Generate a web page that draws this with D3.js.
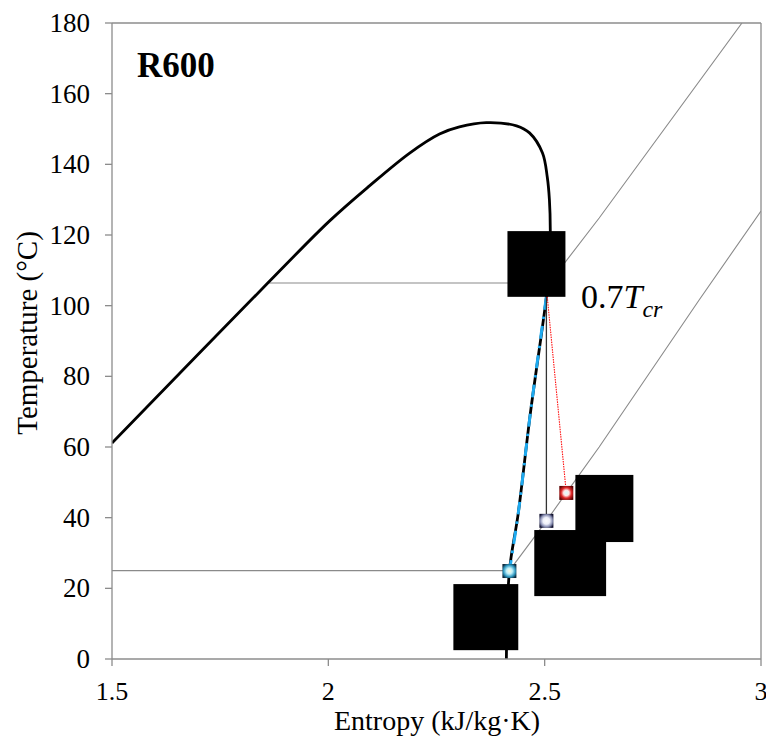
<!DOCTYPE html>
<html><head><meta charset="utf-8">
<script src="https://cdn.jsdelivr.net/npm/d3@7"></script>
<style>html,body{margin:0;padding:0;background:#fff}</style>
</head><body>
<svg id="c" width="766" height="736"></svg>
<script>
// ---- data (entropy kJ/kg·K, temperature °C) ----
const xTicks = [1.5, 2, 2.5, 3];
const yTicks = [0, 20, 40, 60, 80, 100, 120, 140, 160, 180];
const domeS = [1.5, 1.86, 2.003, 2.095, 2.188, 2.257, 2.303, 2.365, 2.435, 2.465, 2.495, 2.506, 2.511, 2.513, 2.511, 2.504, 2.467, 2.439, 2.4185, 2.4115];
const domeT = [61.1, 106.4, 124.0, 133.9, 143.2, 148.6, 150.6, 151.8, 150.9, 148.9, 143.2, 136.4, 129.9, 121.4, 111.5, 102.5, 69.6, 41.3, 24.9, 0];
const expS = [2.504, 2.467, 2.439, 2.4185];
const expT = [102.5, 69.6, 41.3, 24.9];
const isoHighS = [1.5, 1.86, 2.505, 2.548, 2.626, 2.956];
const isoHighT = [61.1, 106.4, 106.4, 112.4, 124.8, 180];
const isoLowS = [1.5, 2.4185, 2.504, 2.55, 2.626, 2.857, 3.0];
const isoLowT = [25, 25, 39.1, 47.0, 60.0, 101.6, 126.8];
const isenS = [2.504, 2.504];
const isenT = [102.5, 39.1];
const realS = [2.506, 2.55];
const realT = [102.5, 47.0];
const pointS = [2.4185, 2.504, 2.55];
const pointT = [24.9, 39.1, 47.0];
const boxS0 = [2.414, 2.571, 2.476, 2.289];
const boxS1 = [2.548, 2.705, 2.642, 2.439];
const boxT0 = [102.5, 33.1, 17.8, 2.5];
const boxT1 = [121.1, 52.1, 36.5, 21.2];

const svg = d3.select('#c');
const L = 112, R = 761, T = 23, B = 659;
const x = d3.scaleLinear().domain([1.5, 3]).range([L, R]);
const y = d3.scaleLinear().domain([0, 180]).range([B, T]);
const font = '"Liberation Serif","Times New Roman",serif';

const defs = svg.append('defs');
defs.append('clipPath').attr('id', 'clip').append('rect')
  .attr('x', L).attr('y', T).attr('width', R - L).attr('height', B - T);
const grads = [
  {id: 'g1', stops: [['0%', '#fffbe0'], ['35%', '#bff0fa'], ['70%', '#2f98c0'], ['100%', '#0c2638']]},
  {id: 'g2', stops: [['0%', '#ffffff'], ['40%', '#eef0fa'], ['72%', '#8a90b4'], ['100%', '#0e0e2c']]},
  {id: 'g3', stops: [['0%', '#d8ffff'], ['32%', '#ffe6e6'], ['62%', '#e02a2a'], ['100%', '#5a0000']]}
];
grads.forEach(g => {
  const rg = defs.append('radialGradient').attr('id', g.id).attr('cx', '50%').attr('cy', '50%').attr('r', '60%');
  g.stops.forEach(s => rg.append('stop').attr('offset', s[0]).attr('stop-color', s[1]));
});

const zip = (a, b) => a.map((v, i) => [v, b[i]]);
const line = d3.line().x(d => x(d[0])).y(d => y(d[1]));
const smooth = d3.line().x(d => x(d[0])).y(d => y(d[1])).curve(d3.curveCatmullRom.alpha(0.5));

const g = svg.append('g').attr('clip-path', 'url(#clip)');

// isobars
g.append('path').attr('d', line(zip(isoHighS, isoHighT))).attr('fill', 'none')
  .attr('stroke', '#8a8a8a').attr('stroke-width', 1.1);
g.append('path').attr('d', line(zip(isoLowS, isoLowT))).attr('fill', 'none')
  .attr('stroke', '#8a8a8a').attr('stroke-width', 1.1);
// dome
g.append('path').attr('d', smooth(zip(domeS, domeT))).attr('fill', 'none')
  .attr('stroke', '#000').attr('stroke-width', 2.8).attr('stroke-linejoin', 'round');
// expansion along saturation line (cyan dash-dot)
g.append('path').attr('d', smooth(zip(expS, expT))).attr('fill', 'none')
  .attr('stroke', '#1eaaf0').attr('stroke-width', 3).attr('stroke-dasharray', '13,7,2.5,7');
// isentropic expansion
g.append('path').attr('d', line(zip(isenS, isenT))).attr('fill', 'none')
  .attr('stroke', '#333').attr('stroke-width', 1.3);
// real expansion (red dotted)
g.append('path').attr('d', line(zip(realS, realT))).attr('fill', 'none')
  .attr('stroke', '#ff1010').attr('stroke-width', 1.1).attr('stroke-dasharray', '1.5,1');

// black boxes
g.selectAll('rect.box').data(boxS0).enter().append('rect').attr('class', 'box')
  .attr('x', (d, i) => x(boxS0[i])).attr('width', (d, i) => x(boxS1[i]) - x(boxS0[i]))
  .attr('y', (d, i) => y(boxT1[i])).attr('height', (d, i) => y(boxT0[i]) - y(boxT1[i]))
  .attr('fill', '#000');

// markers
const ms = 14;
svg.selectAll('rect.m').data(pointS).enter().append('rect').attr('class', 'm')
  .attr('x', (d, i) => x(pointS[i]) - ms / 2).attr('y', (d, i) => y(pointT[i]) - ms / 2)
  .attr('width', ms).attr('height', ms).attr('fill', (d, i) => 'url(#g' + (i + 1) + ')');

// axes
const axCol = '#8c8c8c';
svg.append('line').attr('x1', L).attr('x2', R).attr('y1', T).attr('y2', T).attr('stroke', axCol).attr('stroke-width', 1.3);
svg.append('line').attr('x1', R).attr('x2', R).attr('y1', T).attr('y2', B).attr('stroke', axCol).attr('stroke-width', 1.3);
svg.append('line').attr('x1', L).attr('x2', R).attr('y1', B).attr('y2', B).attr('stroke', axCol).attr('stroke-width', 1.3);
svg.append('line').attr('x1', L).attr('x2', L).attr('y1', T).attr('y2', B).attr('stroke', axCol).attr('stroke-width', 1.3);

svg.selectAll('line.yt').data(yTicks).enter().append('line')
  .attr('x1', L - 7).attr('x2', L).attr('y1', d => y(d)).attr('y2', d => y(d)).attr('stroke', axCol).attr('stroke-width', 1.3);
svg.selectAll('text.yt').data(yTicks).enter().append('text')
  .attr('x', 90).attr('y', d => y(d) + 9).attr('text-anchor', 'end')
  .attr('font-family', font).attr('font-size', 27).text(d => d);
svg.selectAll('line.xt').data(xTicks).enter().append('line')
  .attr('x1', d => x(d)).attr('x2', d => x(d)).attr('y1', B).attr('y2', B + 7).attr('stroke', axCol).attr('stroke-width', 1.3);
svg.selectAll('text.xt').data(xTicks).enter().append('text')
  .attr('x', d => x(d)).attr('y', 700).attr('text-anchor', 'middle')
  .attr('font-family', font).attr('font-size', 26).text(d => d);

svg.append('text').attr('x', 437).attr('y', 730).attr('text-anchor', 'middle')
  .attr('font-family', font).attr('font-size', 28).text('Entropy (kJ/kg·K)');
svg.append('text').attr('transform', 'translate(37,333) rotate(-90)').attr('text-anchor', 'middle')
  .attr('font-family', font).attr('font-size', 29).text('Temperature (°C)');

svg.append('text').attr('x', 137).attr('y', 77).attr('font-family', font).attr('font-weight', 'bold')
  .attr('font-size', 35).text('R600');

const lab = svg.append('text').attr('x', 581).attr('y', 308).attr('font-family', font).attr('font-size', 34);
lab.append('tspan').text('0.7');
lab.append('tspan').attr('font-style', 'italic').text('T');
lab.append('tspan').attr('font-style', 'italic').attr('font-size', 24).attr('dy', 9).text('cr');
</script>
</body></html>
